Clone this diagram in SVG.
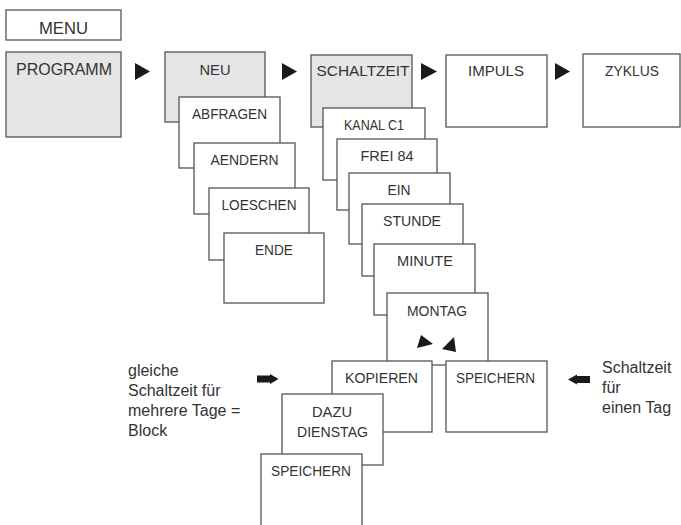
<svg xmlns="http://www.w3.org/2000/svg" width="681" height="525" viewBox="0 0 681 525">
<style>
.box{fill:#fff;stroke:#555;stroke-width:1.3}
.gray{fill:#e6e6e6}
.lbl{font-family:"Liberation Sans",Arial,sans-serif;font-size:15px;fill:#333;text-anchor:middle}
.big{font-size:17px}
.side{font-family:"Liberation Sans",Arial,sans-serif;font-size:16px;fill:#333}
.tri{fill:#1a1a1a}
</style>
<rect width="681" height="525" fill="#fff"/>
<g id="menu"><rect class="box" x="6" y="10" width="115" height="30"/><text class="lbl big" x="63.5" y="34" textLength="49" lengthAdjust="spacingAndGlyphs">MENU</text></g>
<g id="programm"><rect class="box gray" x="6" y="52" width="115" height="85"/><text class="lbl big" x="64" y="75" textLength="96" lengthAdjust="spacingAndGlyphs">PROGRAMM</text></g>
<g id="neu"><rect class="box gray" x="165" y="52" width="100" height="70"/><text class="lbl" x="215" y="75" textLength="31" lengthAdjust="spacingAndGlyphs">NEU</text></g>
<g id="abfragen"><rect class="box" x="179" y="97" width="101" height="71"/><text class="lbl" x="229.5" y="119" textLength="75" lengthAdjust="spacingAndGlyphs">ABFRAGEN</text></g>
<g id="aendern"><rect class="box" x="194" y="143" width="101" height="71"/><text class="lbl" x="244.5" y="165" textLength="68" lengthAdjust="spacingAndGlyphs">AENDERN</text></g>
<g id="loeschen"><rect class="box" x="209" y="188" width="100" height="72"/><text class="lbl" x="259" y="210" textLength="75" lengthAdjust="spacingAndGlyphs">LOESCHEN</text></g>
<g id="ende"><rect class="box" x="224" y="233" width="100" height="70"/><text class="lbl" x="274" y="255" textLength="38" lengthAdjust="spacingAndGlyphs">ENDE</text></g>
<g id="schaltzeit"><rect class="box gray" x="311" y="55" width="101" height="72"/><text class="lbl" x="363" y="76" textLength="93" lengthAdjust="spacingAndGlyphs">SCHALTZEIT</text></g>
<g id="impuls"><rect class="box" x="446" y="55" width="101" height="72"/><text class="lbl" x="496" y="76" textLength="56" lengthAdjust="spacingAndGlyphs">IMPULS</text></g>
<g id="zyklus"><rect class="box" x="583" y="54" width="97" height="73"/><text class="lbl" x="632" y="76" textLength="54" lengthAdjust="spacingAndGlyphs">ZYKLUS</text></g>
<g id="kanal"><rect class="box" x="323" y="108" width="102" height="72"/><text class="lbl" x="374" y="130" textLength="60" lengthAdjust="spacingAndGlyphs">KANAL C1</text></g>
<g id="frei"><rect class="box" x="337" y="139" width="100" height="71"/><text class="lbl" x="387" y="161" textLength="53" lengthAdjust="spacingAndGlyphs">FREI 84</text></g>
<g id="ein"><rect class="box" x="349" y="173" width="101" height="71"/><text class="lbl" x="399" y="195" textLength="23" lengthAdjust="spacingAndGlyphs">EIN</text></g>
<g id="stunde"><rect class="box" x="362" y="204" width="101" height="72"/><text class="lbl" x="412" y="226" textLength="58" lengthAdjust="spacingAndGlyphs">STUNDE</text></g>
<g id="minute"><rect class="box" x="374" y="244" width="101" height="71"/><text class="lbl" x="425" y="266" textLength="56" lengthAdjust="spacingAndGlyphs">MINUTE</text></g>
<g id="montag"><rect class="box" x="387" y="293" width="101" height="72"/><text class="lbl" x="437" y="316" textLength="60" lengthAdjust="spacingAndGlyphs">MONTAG</text>
<polygon class="tri" points="417,348 421,335 433,344"/><polygon class="tri" points="454,337 442,349 456,352"/></g>
<g id="kopieren"><rect class="box" x="332" y="361" width="100" height="71"/><text class="lbl" x="381.5" y="383" textLength="73" lengthAdjust="spacingAndGlyphs">KOPIEREN</text></g>
<g id="speichern1"><rect class="box" x="446" y="361" width="101" height="71"/><text class="lbl" x="495.5" y="383" textLength="79" lengthAdjust="spacingAndGlyphs">SPEICHERN</text></g>
<g id="dazu"><rect class="box" x="282" y="394" width="101" height="71"/><text class="lbl" x="332" y="417" textLength="40" lengthAdjust="spacingAndGlyphs">DAZU</text><text class="lbl" x="332.5" y="437" textLength="71" lengthAdjust="spacingAndGlyphs">DIENSTAG</text></g>
<g id="speichern2"><rect class="box" x="261" y="454" width="101" height="80"/><text class="lbl" x="311" y="476" textLength="80" lengthAdjust="spacingAndGlyphs">SPEICHERN</text></g>
<g id="note-left"><text class="side" x="128" y="376">gleiche</text><text class="side" x="128" y="396">Schaltzeit für</text><text class="side" x="128" y="416">mehrere Tage =</text><text class="side" x="128" y="436">Block</text></g>
<g id="note-right"><text class="side" x="602" y="373">Schaltzeit</text><text class="side" x="602" y="393">für</text><text class="side" x="602" y="413">einen Tag</text></g>
<g id="connectors">
<polygon class="tri" points="135,63 150,71.5 135,80"/>
<polygon class="tri" points="282,63 297,71.5 282,80"/>
<polygon class="tri" points="421,63 437,71.5 421,80"/>
<polygon class="tri" points="555,63 570,71.5 555,80"/>
<polygon class="tri" points="257,375.5 270,375.5 270,374 278.5,379 270,384 270,382.5 257,382.5"/>
<polygon class="tri" points="590,376 577,376 577,374.5 568,379.5 577,384.5 577,383 590,383"/>
</g>
</svg>
